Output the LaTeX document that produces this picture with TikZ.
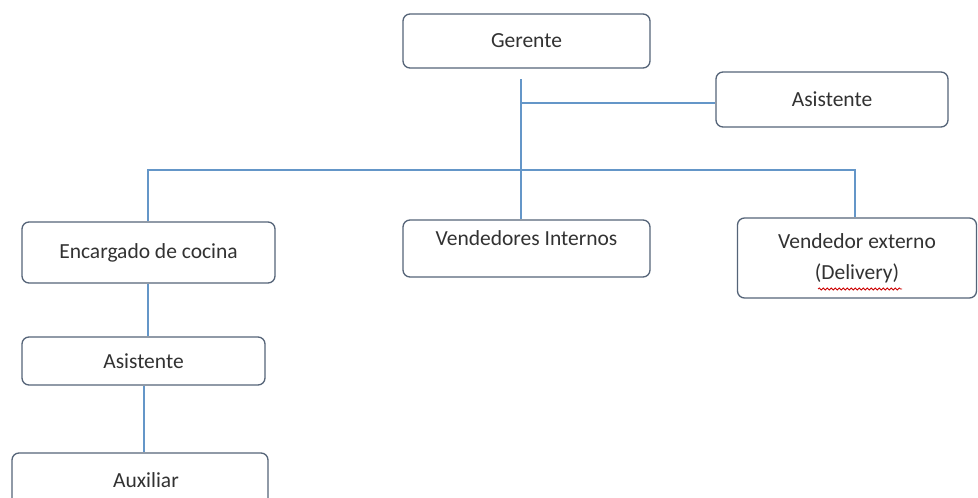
\documentclass[tikz,border=0pt]{standalone}
\usepackage{fontspec}
\setmainfont{Carlito}
\usetikzlibrary{decorations.pathmorphing}
\definecolor{lineblue}{RGB}{100,150,200}
\definecolor{boxedge}{RGB}{85,100,120}
\definecolor{txt}{RGB}{50,50,50}
\tikzset{
  orgbox/.style={draw=boxedge, line width=1.3pt, rounded corners=7pt, fill=white,
    text=txt, font=\fontsize{21.5}{31}\selectfont, align=center, inner sep=0pt},
  conn/.style={draw=lineblue, line width=1.6pt}
}
\begin{document}
\begin{tikzpicture}[x=1pt,y=-1pt]
\useasboundingbox (0,0) rectangle (978,498);
\clip (0,0) rectangle (978,498);
\fill[white] (0,0) rectangle (978,498);
% nodes
\node[orgbox, minimum width=247pt, minimum height=54pt] (ger) at (526.5,41) {Gerente};
\node[orgbox, minimum width=232pt, minimum height=55pt] (asi1) at (832,99.5) {Asistente};
\node[orgbox, minimum width=253pt, minimum height=61pt] (enc) at (148.5,252.5) {Encargado de cocina};
\node[orgbox, minimum width=247pt, minimum height=57pt, text height=15pt, text depth=21pt] (vi) at (526.5,248.5) {Vendedores Internos};
\node[orgbox, minimum width=239pt, minimum height=80pt] (ve) at (857,258) {Vendedor externo\\(Delivery)};
\node[orgbox, minimum width=243pt, minimum height=48pt] (asi2) at (143.5,361) {Asistente};
\node[orgbox, minimum width=256pt, minimum height=54pt] (aux) at (140,480) {\hspace*{12pt}Auxiliar};
% connectors
\coordinate (gtop) at (521,79);
\coordinate (jA) at (521,103);
\coordinate (jM) at (521,170);
\coordinate (jL) at (148,170);
\coordinate (jR) at (855,170);
\draw[conn] (gtop) -- (vi.north -| gtop);
\draw[conn] (jA) -- (asi1.west |- jA);
\draw[conn] (enc.north -| jL) -- (jL) -- (jR) -- (ve.north -| jR);
\draw[conn] (enc.south -| jL) -- (asi2.north -| jL);
\draw[conn] (asi2.south -| 144,0) -- (aux.north -| 144,0);
% spell-check underline
\coordinate (sqA) at (818,289);
\coordinate (sqB) at (902,289);
\draw[red!80!black, line width=0.8pt, decorate, decoration={snake, amplitude=1pt, segment length=4pt}] (sqA) -- (sqB);
\end{tikzpicture}
\end{document}
